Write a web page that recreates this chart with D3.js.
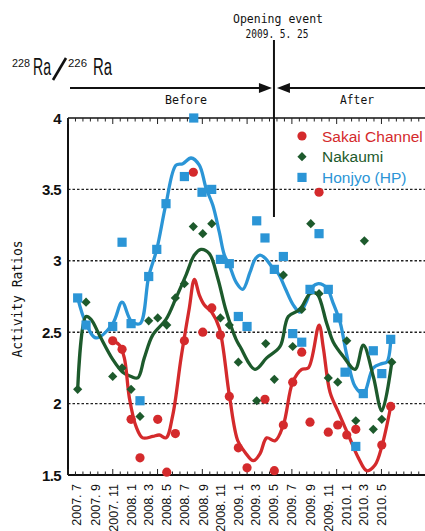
<!DOCTYPE html>
<html>
<head>
<meta charset="utf-8">
<script src="https://cdn.jsdelivr.net/npm/d3@7"></script>
<style>
  html, body { margin: 0; padding: 0; background: #fff; }
  svg { display: block; }
</style>
</head>
<body>
<svg id="chart"></svg>
<script>
// Dữ liệu: [năm thập phân, tỉ số 228Ra/226Ra]
const sakaiPoints = [
  [2007.894, 2.44], [2007.981, 2.38], [2008.065, 1.89], [2008.148, 1.62], [2008.313, 1.89],
  [2008.397, 1.52], [2008.477, 1.79], [2008.561, 2.44], [2008.644, 3.62], [2008.732, 2.50],
  [2008.816, 2.67], [2008.896, 2.48], [2008.979, 2.05], [2009.063, 1.69], [2009.144, 1.55],
  [2009.311, 2.03], [2009.398, 1.53], [2009.482, 1.85], [2009.569, 2.15], [2009.653, 2.36],
  [2009.730, 1.87], [2009.814, 3.48], [2009.900, 1.80], [2009.988, 1.85], [2010.072, 1.78],
  [2010.156, 1.82], [2010.398, 1.71], [2010.481, 1.98]
];
const nakaumiPoints = [
  [2007.568, 2.10], [2007.646, 2.71], [2007.894, 2.19], [2007.981, 2.25], [2008.065, 2.10],
  [2008.148, 1.91], [2008.229, 2.58], [2008.313, 2.60], [2008.397, 2.55], [2008.477, 2.74],
  [2008.561, 2.84], [2008.644, 3.24], [2008.732, 3.19], [2008.816, 3.26], [2008.896, 2.60],
  [2008.979, 2.55], [2009.063, 2.29], [2009.234, 2.02], [2009.318, 2.42], [2009.398, 2.17],
  [2009.482, 2.90], [2009.569, 2.40], [2009.653, 2.66], [2009.737, 3.26], [2009.814, 2.77],
  [2009.900, 2.18], [2009.988, 2.15], [2010.072, 2.44], [2010.156, 1.88], [2010.236, 3.14],
  [2010.319, 1.82], [2010.398, 1.89], [2010.491, 2.29]
];
const honjyoPoints = [
  [2007.568, 2.74], [2007.646, 2.55], [2007.894, 2.54], [2007.981, 3.13], [2008.065, 2.56],
  [2008.148, 2.02], [2008.229, 2.89], [2008.304, 3.08], [2008.390, 3.40], [2008.561, 3.59],
  [2008.648, 4.00], [2008.725, 3.48], [2008.815, 3.50], [2008.896, 3.01], [2008.979, 2.98],
  [2009.063, 2.61], [2009.144, 2.54], [2009.234, 3.28], [2009.311, 3.16], [2009.398, 2.94],
  [2009.482, 3.03], [2009.569, 2.49], [2009.653, 2.43], [2009.730, 2.80], [2009.814, 3.19],
  [2009.900, 2.80], [2009.988, 2.60], [2010.056, 2.22], [2010.156, 1.70], [2010.226, 2.07],
  [2010.319, 2.37], [2010.398, 2.21], [2010.481, 2.45]
];

// Đường làm trơn của từng trạm
const sakaiCurve = [
  [2007.894, 2.44], [2007.956, 2.41], [2008.002, 2.32], [2008.049, 2.04], [2008.111, 1.84],
  [2008.173, 1.76], [2008.266, 1.77], [2008.328, 1.78], [2008.390, 1.76], [2008.453, 1.92],
  [2008.530, 2.32], [2008.607, 2.67], [2008.654, 2.87], [2008.700, 2.76], [2008.747, 2.69],
  [2008.816, 2.64], [2008.886, 2.53], [2008.979, 2.06], [2009.058, 1.74], [2009.125, 1.66],
  [2009.203, 1.60], [2009.265, 1.65], [2009.327, 1.76], [2009.405, 1.74], [2009.482, 1.85],
  [2009.569, 2.15], [2009.653, 2.24], [2009.715, 2.25], [2009.814, 2.55], [2009.854, 2.39],
  [2009.916, 2.08], [2009.994, 1.94], [2010.087, 1.78], [2010.180, 1.62], [2010.258, 1.53],
  [2010.335, 1.57], [2010.398, 1.70], [2010.481, 1.98]
];
const nakaumiCurve = [
  [2007.568, 2.10], [2007.646, 2.61], [2007.692, 2.59], [2007.770, 2.48], [2007.894, 2.31],
  [2007.987, 2.22], [2008.065, 2.19], [2008.127, 2.18], [2008.188, 2.32], [2008.266, 2.48],
  [2008.390, 2.59], [2008.483, 2.74], [2008.576, 2.90], [2008.654, 3.04], [2008.716, 3.08],
  [2008.793, 3.05], [2008.871, 2.88], [2008.949, 2.65], [2009.042, 2.45], [2009.079, 2.40],
  [2009.218, 2.24], [2009.327, 2.32], [2009.451, 2.40], [2009.528, 2.61], [2009.637, 2.66],
  [2009.730, 2.77], [2009.793, 2.77], [2009.886, 2.56], [2009.947, 2.43], [2010.040, 2.33],
  [2010.149, 2.24], [2010.226, 2.41], [2010.319, 2.19], [2010.398, 1.95], [2010.491, 2.29]
];
const honjyoCurve = [
  [2007.568, 2.74], [2007.646, 2.56], [2007.739, 2.46], [2007.894, 2.56], [2007.981, 2.71],
  [2008.065, 2.58], [2008.148, 2.56], [2008.229, 2.89], [2008.304, 3.08], [2008.390, 3.40],
  [2008.483, 3.67], [2008.546, 3.68], [2008.623, 3.72], [2008.700, 3.67], [2008.762, 3.51],
  [2008.825, 3.39], [2008.886, 3.20], [2008.933, 3.04], [2008.979, 2.97], [2009.042, 2.85],
  [2009.104, 2.80], [2009.172, 2.92], [2009.218, 3.01], [2009.265, 3.04], [2009.311, 3.02],
  [2009.374, 2.96], [2009.435, 2.91], [2009.498, 2.81], [2009.575, 2.69], [2009.637, 2.64],
  [2009.700, 2.72], [2009.746, 2.81], [2009.808, 2.84], [2009.886, 2.81], [2009.947, 2.70],
  [2010.010, 2.57], [2010.072, 2.34], [2010.149, 2.12], [2010.226, 2.07], [2010.319, 2.25],
  [2010.398, 2.28], [2010.444, 2.29], [2010.481, 2.44]
];

const xTickLabels = ["2007. 7", "2007. 9", "2007. 11", "2008. 1", "2008. 3", "2008. 5",
  "2008. 7", "2008. 9", "2008. 11", "2009. 1", "2009. 3", "2009. 5", "2009. 7", "2009. 9",
  "2009. 11", "2010. 1", "2010. 3", "2010. 5"];
const yTickValues = [1.5, 2, 2.5, 3, 3.5, 4];
const gridValues = [2, 2.5, 3, 3.5];
const eventDate = [2009, 5, 25];

const series = [
  { name: "Sakai Channel", color: "#d42a2c", shape: "circle", points: sakaiPoints, curve: sakaiCurve },
  { name: "Nakaumi", color: "#1d5a2c", shape: "diamond", points: nakaumiPoints, curve: nakaumiCurve },
  { name: "Honjyo (HP)", color: "#2b95d6", shape: "square", points: honjyoPoints, curve: honjyoCurve }
];

// Kích thước
const width = 425, height = 531;
const margin = { top: 118, right: 0, bottom: 56, left: 68 };
const mono = "'DejaVu Sans Mono', monospace";
const sans = "'Liberation Sans', Arial, sans-serif";

const svg = d3.select("#chart").attr("width", width).attr("height", height);

function decYear(yy, mm, dd) {
  const days = d3.timeDay.count(new Date(yy, 0, 1), new Date(yy, mm - 1, dd));
  return yy + days / 365;
}

const x = d3.scaleLinear().domain([2007.478, 2010.80]).range([margin.left, width]);
const y = d3.scaleLinear().domain([1.5, 4]).range([height - margin.bottom, margin.top]);

// Lưới ngang chấm
svg.append("g").selectAll("line").data(gridValues).join("line")
  .attr("x1", margin.left).attr("x2", width)
  .attr("y1", d => y(d)).attr("y2", d => y(d))
  .attr("stroke", "#222").attr("stroke-width", 1.4).attr("stroke-dasharray", "2.5,2");

// Khung trục
const frame = svg.append("g").attr("stroke", "#111").attr("stroke-width", 2);
frame.append("line").attr("x1", margin.left).attr("x2", width).attr("y1", y(4)).attr("y2", y(4)).attr("stroke-width", 1.5);
frame.append("line").attr("x1", margin.left).attr("x2", width).attr("y1", y(1.5)).attr("y2", y(1.5));
frame.append("line").attr("x1", margin.left).attr("x2", margin.left).attr("y1", y(4)).attr("y2", y(1.5));

// Vạch chia nhỏ (mỗi 5/6 tháng, vạch lớn mỗi 5 tháng)
const minorTicks = d3.range(0, 50).map(i => ({ v: 2007.478 + i * 5 / 72, major: i % 6 === 0 }));
const tickG = svg.append("g").attr("stroke", "#222").attr("stroke-width", 1);
tickG.selectAll(".tt").data(minorTicks).join("line")
  .attr("x1", d => x(d.v)).attr("x2", d => x(d.v))
  .attr("y1", y(4)).attr("y2", d => y(4) + (d.major ? 6 : 3.5));
tickG.selectAll(".tb").data(minorTicks).join("line")
  .attr("x1", d => x(d.v)).attr("x2", d => x(d.v))
  .attr("y1", y(1.5)).attr("y2", d => y(1.5) - (d.major ? 6 : 3.5));

// Nhãn trục Y
svg.append("g").selectAll("text").data(yTickValues).join("text")
  .attr("x", margin.left - 7).attr("y", d => y(d) + 5.5)
  .attr("text-anchor", "end")
  .attr("font-family", sans).attr("font-size", 15).attr("font-weight", "bold")
  .attr("letter-spacing", -0.6).attr("fill", "#111")
  .text(d => d);

// Nhãn trục X (xoay dọc)
svg.append("g").selectAll("text").data(xTickLabels).join("text")
  .attr("transform", d => {
    const [yy, mm] = d.split(".").map(s => +s.trim());
    return `translate(${x(decYear(yy, mm, 25)) + 4.5},484) rotate(-90)`;
  })
  .attr("text-anchor", "end")
  .attr("font-family", sans).attr("font-size", 12.5).attr("fill", "#111")
  .text(d => d);

// Nhãn trục Y
svg.append("text")
  .attr("transform", "translate(22,299) rotate(-90)")
  .attr("text-anchor", "middle")
  .attr("font-family", mono).attr("font-size", 14).attr("fill", "#111")
  .attr("textLength", 117).attr("lengthAdjust", "spacingAndGlyphs")
  .text("Activity Ratios");

// Vẽ đường làm trơn
const line = d3.line().x(d => x(d[0])).y(d => y(d[1])).curve(d3.curveCatmullRom.alpha(0.5));
svg.append("g").selectAll("path").data(series.slice().reverse()).join("path")
  .attr("d", d => line(d.curve))
  .attr("fill", "none").attr("stroke", d => d.color)
  .attr("stroke-width", 3.3).attr("stroke-linejoin", "round").attr("stroke-linecap", "round");

// Ký hiệu điểm
function drawMarker(g, shape, color, cx, cy) {
  if (shape === "circle") {
    g.append("circle").attr("cx", cx).attr("cy", cy).attr("r", 4.6).attr("fill", color);
  } else if (shape === "square") {
    g.append("rect").attr("x", cx - 4.6).attr("y", cy - 4.6).attr("width", 9.2).attr("height", 9.2).attr("fill", color);
  } else {
    g.append("path").attr("d", `M${cx},${cy - 4.6}L${cx + 4.6},${cy}L${cx},${cy + 4.6}L${cx - 4.6},${cy}Z`).attr("fill", color);
  }
}
series.forEach(s => {
  const g = svg.append("g");
  s.points.forEach(p => drawMarker(g, s.shape, s.color, x(p[0]), y(p[1])));
});

// Chú thích
const legend = svg.append("g");
series.forEach((s, i) => {
  const ly = 136 + i * 20.7;
  drawMarker(legend, s.shape, s.color, 302, ly);
  legend.append("text")
    .attr("x", 322).attr("y", ly + 5.5)
    .attr("font-family", sans).attr("font-size", 15.5).attr("fill", s.color)
    .text(s.name);
});

// Sự kiện mở cửa 2009.5.25
const ex = x(decYear(...eventDate));
svg.append("line").attr("x1", ex).attr("x2", ex).attr("y1", 40).attr("y2", 217)
  .attr("stroke", "#111").attr("stroke-width", 2);

const arrowY = 88;
svg.append("line").attr("x1", 70).attr("x2", ex - 12).attr("y1", arrowY).attr("y2", arrowY)
  .attr("stroke", "#111").attr("stroke-width", 2);
svg.append("path").attr("d", `M${ex - 2},${arrowY}L${ex - 15},${arrowY - 5}L${ex - 15},${arrowY + 5}Z`).attr("fill", "#111");
svg.append("line").attr("x1", ex + 12).attr("x2", width).attr("y1", arrowY).attr("y2", arrowY)
  .attr("stroke", "#111").attr("stroke-width", 2);
svg.append("path").attr("d", `M${ex + 3},${arrowY}L${ex + 16},${arrowY - 5}L${ex + 16},${arrowY + 5}Z`).attr("fill", "#111");

const monoText = (tx, ty, str, len) => svg.append("text")
  .attr("x", tx).attr("y", ty).attr("text-anchor", "middle")
  .attr("font-family", mono).attr("font-size", 13).attr("fill", "#111")
  .attr("textLength", len).attr("lengthAdjust", "spacingAndGlyphs")
  .text(str);
monoText(278, 23, "Opening event", 90);
monoText(277, 38, "2009. 5. 25", 63);
monoText(186, 104, "Before", 42);
monoText(357, 104, "After", 34);

// Tiêu đề 228Ra/226Ra
const title = svg.append("g").attr("font-family", sans).attr("fill", "#111");
title.append("text").attr("x", 12).attr("y", 67).attr("font-size", 10.5)
  .attr("textLength", 18).attr("lengthAdjust", "spacingAndGlyphs").text("228");
title.append("text").attr("x", 33).attr("y", 75).attr("font-size", 23)
  .attr("textLength", 18).attr("lengthAdjust", "spacingAndGlyphs").text("Ra");
title.append("text").attr("x", 68).attr("y", 67).attr("font-size", 10.5)
  .attr("textLength", 19).attr("lengthAdjust", "spacingAndGlyphs").text("226");
title.append("text").attr("x", 93).attr("y", 75).attr("font-size", 23)
  .attr("textLength", 19).attr("lengthAdjust", "spacingAndGlyphs").text("Ra");
svg.append("line").attr("x1", 53).attr("y1", 80).attr("x2", 66).attr("y2", 58)
  .attr("stroke", "#111").attr("stroke-width", 2.6);
</script>
</body>
</html>
